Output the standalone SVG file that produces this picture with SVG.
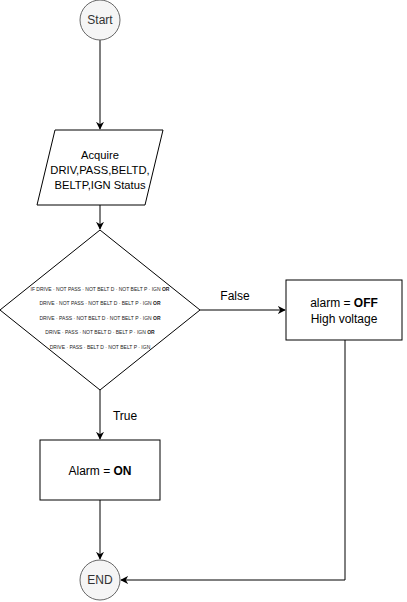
<svg xmlns="http://www.w3.org/2000/svg" width="407" height="602" viewBox="0 0 407 602">
<defs>
<marker id="arr" viewBox="0 0 10 10" refX="9" refY="5" markerWidth="8" markerHeight="8" markerUnits="userSpaceOnUse" orient="auto">
<path d="M0,0 L10,5 L0,10 L3,5 Z" fill="#000"/>
</marker>
</defs>
<style>
.t{font-family:"Liberation Sans",Arial,sans-serif;font-size:12px;fill:#000;text-anchor:middle}
.p{font-size:11.2px}
.s{font-family:"Liberation Sans",Arial,sans-serif;font-size:5px;fill:#222;text-anchor:middle}
.term{fill:#f5f5f5;stroke:#666;stroke-width:1}
.shape{fill:#fff;stroke:#000;stroke-width:1}
.edge{fill:none;stroke:#000;stroke-width:1;marker-end:url(#arr)}
</style>
<rect width="407" height="602" fill="#fff"/>
<g id="connectors">
<path class="edge" d="M100,40 V129"/>
<path class="edge" d="M100,205 V229"/>
<path class="edge" d="M200,310 H285"/>
<path class="edge" d="M100,390 V439"/>
<path class="edge" d="M100,500 V559"/>
<path class="edge" d="M345,340 V580 H121"/>
<text class="t" x="235" y="300">False</text>
<text class="t" x="125" y="420">True</text>
</g>
<g id="start">
<circle class="term" cx="100" cy="20" r="20"/>
<text class="t" x="100" y="24" style="fill:#333">Start</text>
</g>
<g id="acquire">
<polygon class="shape" points="55,130 163,130 145,205 37,205"/>
<text class="t p" x="100" y="159">Acquire</text>
<text class="t p" x="100" y="174">DRIV,PASS,BELTD,</text>
<text class="t p" x="100" y="189">BELTP,IGN Status</text>
</g>
<g id="decision">
<polygon class="shape" points="100,230 200,310 100,390 0,310"/>
<text class="s" x="100" y="291">IF DRIVE · NOT PASS · NOT BELT D · NOT BELT P · IGN <tspan font-weight="bold">OR</tspan></text>
<text class="s" x="100" y="305">DRIVE · NOT PASS · NOT BELT D · BELT P · IGN <tspan font-weight="bold">OR</tspan></text>
<text class="s" x="100" y="320">DRIVE · PASS · NOT BELT D · NOT BELT P · IGN <tspan font-weight="bold">OR</tspan></text>
<text class="s" x="100" y="334">DRIVE · PASS · NOT BELT D · BELT P · IGN <tspan font-weight="bold">OR</tspan></text>
<text class="s" x="100" y="349">DRIVE · PASS · BELT D · NOT BELT P · IGN</text>
</g>
<g id="alarm-off">
<rect class="shape" x="286" y="280" width="116" height="60"/>
<text class="t" x="344" y="307">alarm = <tspan font-weight="bold">OFF</tspan></text>
<text class="t" x="344" y="323">High voltage</text>
</g>
<g id="alarm-on">
<rect class="shape" x="40" y="440" width="120" height="60"/>
<text class="t" x="100" y="475">Alarm = <tspan font-weight="bold">ON</tspan></text>
</g>
<g id="end">
<circle class="term" cx="100" cy="580" r="20"/>
<text class="t" x="100" y="584" style="fill:#333">END</text>
</g>
</svg>
